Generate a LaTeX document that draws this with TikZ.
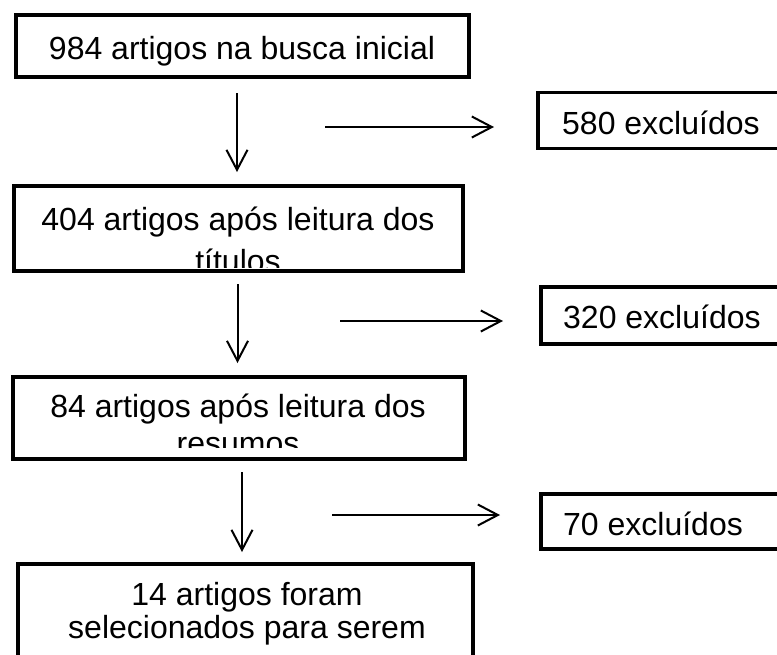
\documentclass[tikz,border=0pt]{standalone}
\usepackage{fontspec}
\setmainfont{Liberation Sans}
\usetikzlibrary{arrows.meta}
\begin{document}
\begin{tikzpicture}[x=1pt,y=-1pt,
  box/.style={draw, line width=3.8pt, rectangle, inner sep=0pt},
  txt/.style={inner sep=0pt, align=center},
  arr/.style={line width=2pt, -{Straight Barb[length=20pt,width=21pt,line width=2pt]}}
]
\clip (0,0) rectangle (777,654);
\fill[white] (0,0) rectangle (777,654);

% main boxes
\node[box, minimum width=453pt, minimum height=62pt] (b1) at (242.5,46) {};
\node[txt, anchor=base, font=\fontsize{32}{37}\selectfont] (t1) at (242,59) {984 artigos na busca inicial};

\begin{scope}
\clip (14,186) rectangle (463,267);
\node[txt, anchor=base, font=\fontsize{32}{42}\selectfont] (t2) at (238,272) {404 artigos após leitura dos\\títulos};
\end{scope}
\node[box, minimum width=449pt, minimum height=85pt] (b2) at (238.5,228.5) {};

\begin{scope}
\clip (13,377) rectangle (465,447);
\node[txt, anchor=base, font=\fontsize{32}{37}\selectfont] (t3) at (238,454) {84 artigos após leitura dos\\resumos};
\end{scope}
\node[box, minimum width=452pt, minimum height=82pt] (b3) at (239,418) {};

\node[box, minimum width=455pt, minimum height=140pt] (b4) at (245.5,634) {};
\node[txt, anchor=base, font=\fontsize{32}{33}\selectfont] (t4) at (247,638) {14 artigos foram\\selecionados para serem};

% excluded boxes
\node[box, minimum width=270pt, minimum height=56pt] (e1) at (673,120.5) {};
\node[txt, anchor=base west, font=\fontsize{32}{37}\selectfont] (u1) at (562,134) {580 excluídos};
\node[box, minimum width=270pt, minimum height=57pt] (e2) at (676,315.5) {};
\node[txt, anchor=base west, font=\fontsize{32}{37}\selectfont] (u2) at (563,328) {320 excluídos};
\node[box, minimum width=270pt, minimum height=55pt] (e3) at (676,521.5) {};
\node[txt, anchor=base west, font=\fontsize{32}{37}\selectfont] (u3) at (563,535) {70 excluídos};

% arrow ends
\coordinate (d1s) at (237,93);   \coordinate (d1e) at (237,172);
\coordinate (r1s) at (325,127);  \coordinate (r1e) at (494,127);
\coordinate (d2s) at (237.5,284); \coordinate (d2e) at (237.5,363);
\coordinate (r2s) at (340,321);  \coordinate (r2e) at (503,321);
\coordinate (d3s) at (242,472);  \coordinate (d3e) at (242,552);
\coordinate (r3s) at (332,515);  \coordinate (r3e) at (500,515);

\draw[arr] (d1s) -- (d1e);
\draw[arr] (r1s) -- (r1e);
\draw[arr] (d2s) -- (d2e);
\draw[arr] (r2s) -- (r2e);
\draw[arr] (d3s) -- (d3e);
\draw[arr] (r3s) -- (r3e);
\end{tikzpicture}
\end{document}
